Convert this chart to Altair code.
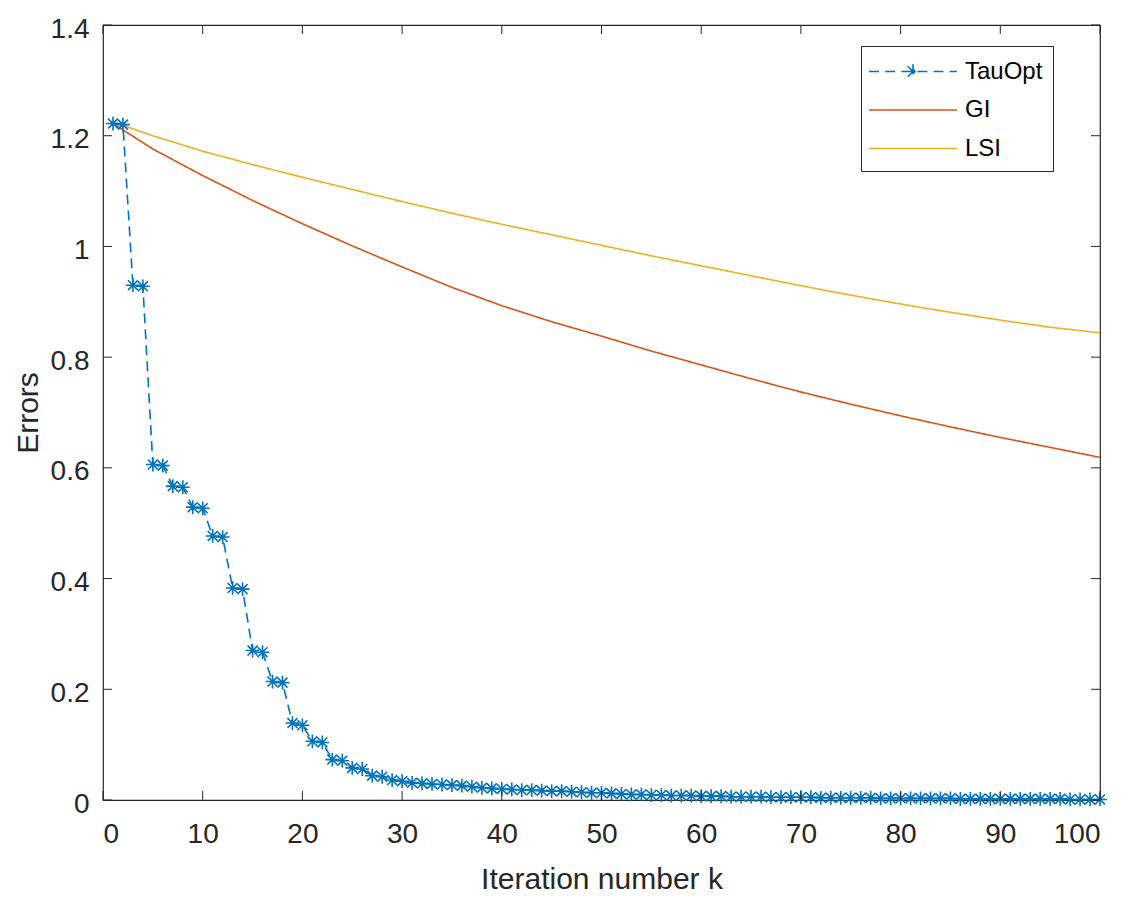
import altair as alt
import pandas as pd

# ---------------- data ----------------
k_tau = list(range(1, 101))
tauopt = [
    1.222, 1.220, 0.930, 0.928, 0.606, 0.604, 0.567, 0.565, 0.529, 0.527,
    0.477, 0.475, 0.383, 0.381, 0.270, 0.267, 0.214, 0.212, 0.139, 0.135,
    0.106, 0.104, 0.073, 0.071, 0.058, 0.056, 0.044, 0.042, 0.036, 0.034,
    0.031, 0.030, 0.029, 0.028, 0.027, 0.026, 0.024, 0.022, 0.021, 0.020,
    0.019, 0.018, 0.018, 0.017, 0.016, 0.016, 0.015, 0.014, 0.013, 0.013,
    0.012, 0.011, 0.010, 0.010, 0.009, 0.009, 0.008, 0.008, 0.008, 0.007,
    0.007, 0.007, 0.006, 0.006, 0.006, 0.006, 0.005, 0.005, 0.005, 0.005,
    0.005, 0.004, 0.004, 0.004, 0.004, 0.004, 0.004, 0.003, 0.003, 0.003,
    0.003, 0.003, 0.003, 0.003, 0.003, 0.002, 0.002, 0.002, 0.002, 0.002,
    0.002, 0.002, 0.002, 0.002, 0.002, 0.002, 0.001, 0.001, 0.001, 0.001,
]

k_curve = [1, 5, 10, 15, 20, 25, 30, 35, 40, 45, 50,
           55, 60, 65, 70, 75, 80, 85, 90, 95, 100]
gi = [1.222, 1.176, 1.128, 1.083, 1.041, 1.001, 0.963, 0.926, 0.893, 0.864, 0.838,
      0.811, 0.786, 0.761, 0.737, 0.715, 0.694, 0.674, 0.655, 0.637, 0.619]
lsi = [1.225, 1.200, 1.172, 1.148, 1.125, 1.103, 1.081, 1.060, 1.040, 1.021, 1.002,
       0.983, 0.965, 0.947, 0.929, 0.912, 0.896, 0.881, 0.867, 0.854, 0.844]

series_names = ["TauOpt", "GI", "LSI"]
series_colors = ["#0072BD", "#D95319", "#EDB120"]
x_ticks = [0, 10, 20, 30, 40, 50, 60, 70, 80, 90, 100]
y_ticks = [0, 0.2, 0.4, 0.6, 0.8, 1.0, 1.2, 1.4]

# ---------------- tables ----------------
df_tau = pd.DataFrame({"k": k_tau, "err": tauopt, "series": "TauOpt"})
df_gi = pd.DataFrame({"k": k_curve, "err": gi, "series": "GI"})
df_lsi = pd.DataFrame({"k": k_curve, "err": lsi, "series": "LSI"})
df_lines = pd.concat([df_tau, df_gi, df_lsi], ignore_index=True)
df_lines["style"] = df_lines["series"]
df_xt = pd.DataFrame({"v": x_ticks})
df_yt = pd.DataFrame({"v": y_ticks})

W, H = 997, 775
FONT = "Liberation Sans"
AX = "#262626"
TL = 9

xscale = alt.Scale(domain=[0, 100], nice=False, zero=False)
yscale = alt.Scale(domain=[0, 1.4], nice=False, zero=False)

x_enc = alt.X("k:Q", scale=xscale, axis=alt.Axis(
    values=x_ticks, title="Iteration number k", ticks=False, grid=False,
    domain=False, labelPadding=20, titlePadding=16, format="d"))
y_enc = alt.Y("err:Q", scale=yscale, axis=alt.Axis(
    values=y_ticks, title="Errors", ticks=False, grid=False, domain=False,
    labelPadding=14, labelOffset=4, titlePadding=7, format="~g"))

# legend symbol glyphs (unit box, scaled by the legend symbol size)
seg = "M-3,0L-2.3,0M-1.9,0L-1.2,0M-0.8,0L-0.1,0M0.3,0L1.0,0M1.4,0L2.1,0M2.5,0L3,0"
star_small = "M-0.5,0L0.5,0M0,-0.5L0,0.5M-0.36,-0.36L0.36,0.36M-0.36,0.36L0.36,-0.36"
tau_glyph = seg + star_small
solid_glyph = "M-3,0L3,0"

color = alt.Color("series:N", scale=alt.Scale(domain=series_names, range=series_colors),
                  legend=alt.Legend(
                      title=None, orient="none", legendX=758, legendY=21,
                      symbolType={"expr": "datum.value === 'TauOpt' ? '" + tau_glyph + "' : '" + solid_glyph + "'"},
                      symbolSize=860, symbolStrokeWidth=1.6,
                      symbolOffset=26.5, labelOffset=36.5,
                      labelFont=FONT, labelFontSize=24, labelColor="#000000",
                      padding=10, rowPadding=10.5,
                      strokeColor=AX, fillColor="white"))
dash = alt.StrokeDash("style:N", scale=alt.Scale(domain=series_names,
                                                 range=[[10, 6], [1, 0], [1, 0]]),
                      legend=None)

lines = alt.Chart(df_lines).mark_line(strokeWidth=1.6, clip=True).encode(
    x=x_enc, y=y_enc, color=color, strokeDash=dash,
    detail="series:N",
    order=alt.Order("k:Q"),
)

star = "M-1,0L1,0M0,-1L0,1M-0.72,-0.72L0.72,0.72M-0.72,0.72L0.72,-0.72"
points = alt.Chart(df_tau).mark_point(
    shape=star, filled=False, size=190, strokeWidth=1.6, color="#0072BD", opacity=1
).encode(x=alt.X("k:Q", scale=xscale), y=alt.Y("err:Q", scale=yscale))

# inward ticks on all four sides
t_bottom = alt.Chart(df_xt).mark_rule(color=AX, strokeWidth=1).encode(
    x=alt.X("v:Q", scale=xscale), y=alt.value(H), y2=alt.value(H - TL))
t_top = alt.Chart(df_xt).mark_rule(color=AX, strokeWidth=1).encode(
    x=alt.X("v:Q", scale=xscale), y=alt.value(0), y2=alt.value(TL))
t_left = alt.Chart(df_yt).mark_rule(color=AX, strokeWidth=1).encode(
    y=alt.Y("v:Q", scale=yscale), x=alt.value(0), x2=alt.value(TL))
t_right = alt.Chart(df_yt).mark_rule(color=AX, strokeWidth=1).encode(
    y=alt.Y("v:Q", scale=yscale), x=alt.value(W), x2=alt.value(W - TL))

chart = alt.layer(lines, points, t_bottom, t_top, t_left, t_right).properties(
    width=W, height=H,
    background="white",
    autosize=alt.AutoSizeParams(type="none"),
    padding={"left": 95, "top": 17, "right": 20, "bottom": 93},
).configure_view(
    stroke=AX, strokeWidth=1.2
).configure_axis(
    labelFont=FONT, labelFontSize=28, labelColor=AX,
    titleFont=FONT, titleFontSize=30, titleColor=AX, titleFontWeight="normal",
)

chart.save("out.html", embed_options={"renderer": "svg", "actions": False})
